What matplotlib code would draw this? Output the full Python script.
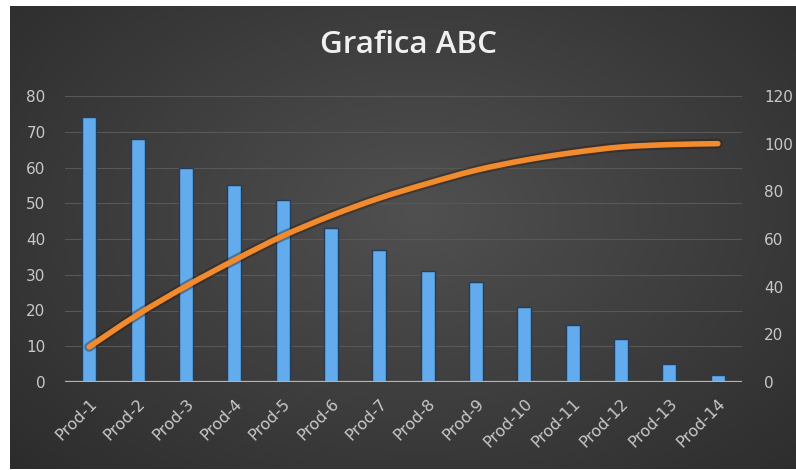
import numpy as np
import matplotlib
matplotlib.use("Agg")
import matplotlib.pyplot as plt
from matplotlib.path import Path
from matplotlib.patches import PathPatch
import matplotlib.patheffects as pe

# --- data -------------------------------------------------------------
products = ["Prod-1", "Prod-2", "Prod-3", "Prod-4", "Prod-5", "Prod-6", "Prod-7",
            "Prod-8", "Prod-9", "Prod-10", "Prod-11", "Prod-12", "Prod-13", "Prod-14"]
sales = [74, 68, 60, 55, 51, 43, 37, 31, 28, 21, 16, 12, 5, 2]
left_ticks = [0, 10, 20, 30, 40, 50, 60, 70, 80]
right_ticks = [0, 20, 40, 60, 80, 100, 120]
title = "Grafica ABC"

# cumulative share in percent (Pareto / ABC curve)
cum_pct = np.cumsum(sales) / np.sum(sales) * 100

W, H = 796, 470
fig = plt.figure(figsize=(W / 100, H / 100), dpi=100, facecolor="white")

# dark chart-area background with a soft radial glow
bg = fig.add_axes([10 / W, 1 / H, 786 / W, 463 / H])
yy, xx = np.mgrid[0:1:300j, 0:1:500j]
r = np.sqrt(((xx - 0.52) / 0.75) ** 2 + ((yy - 0.45) / 0.85) ** 2)
shade = np.clip(1 - r, 0, 1)
dark = np.array([0x2a, 0x2a, 0x2a]) / 255
light = np.array([0x50, 0x50, 0x50]) / 255
img = dark + (light - dark) * shade[..., None]
bg.imshow(img, aspect="auto", extent=[0, 1, 0, 1], interpolation="bilinear")
bg.set_axis_off()

# main axes
ax = fig.add_axes([65 / W, 88 / H, 677 / W, 286 / H])
ax.set_facecolor("none")
x = np.arange(len(products))

ax.bar(x, sales, width=0.29, color="#62abec", edgecolor="#243d5c", linewidth=1.0,
       zorder=3)

ax.set_xlim(-0.5, len(products) - 0.5)
ax.set_ylim(0, 80)
ax.set_yticks(left_ticks)
ax.set_xticks(x)
ax.set_xticklabels(products, rotation=45, ha="right", rotation_mode="anchor")

for s in ax.spines.values():
    s.set_visible(False)
ax.axhline(0, color="#b4b4b4", lw=1.6, zorder=4)
ax.grid(axis="y", color="#585858", lw=0.8, zorder=0)
ax.tick_params(axis="both", length=0, colors="#c8c8c8", labelsize=11)
ax.tick_params(axis="y", pad=14)
ax.tick_params(axis="x", pad=10, labelsize=11.5)

# secondary axis with the cumulative curve
ax2 = ax.twinx()
ax2.set_ylim(0, 120)
ax2.set_yticks(right_ticks)
for s in ax2.spines.values():
    s.set_visible(False)
ax2.tick_params(axis="y", length=0, colors="#c8c8c8", labelsize=11, pad=16)

# smooth curve through the cumulative points (Catmull-Rom as cubic Bezier)
pts = np.column_stack([x, cum_pct])
verts = [pts[0]]
codes = [Path.MOVETO]
n = len(pts)
for i in range(n - 1):
    p0 = pts[max(i - 1, 0)]
    p1 = pts[i]
    p2 = pts[i + 1]
    p3 = pts[min(i + 2, n - 1)]
    c1 = p1 + (p2 - p0) / 6
    c2 = p2 - (p3 - p1) / 6
    verts += [c1, c2, p2]
    codes += [Path.CURVE4] * 3
curve = PathPatch(Path(verts, codes), fill=False, edgecolor="#f28a2e", lw=4,
                  capstyle="round", joinstyle="round", zorder=5,
                  path_effects=[pe.Stroke(linewidth=7, foreground="#2a1a10", alpha=0.4),
                                pe.Normal()])
ax2.add_patch(curve)

fig.text(409 / W, 1 - 45 / H, title, ha="center", va="center", color="#f0f0f0",
         fontsize=22.5, fontweight="semibold", family="Open Sans")

fig.savefig("out.png", dpi=100, facecolor="white")
